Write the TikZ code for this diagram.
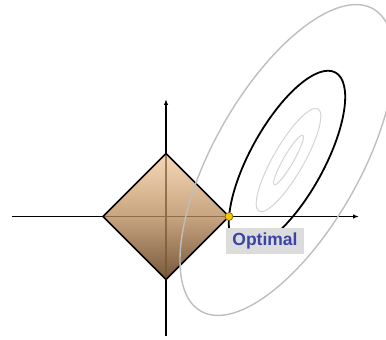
\documentclass[tikz,border=0pt]{standalone}
\usepackage{fontspec}
\setmainfont{Liberation Sans}
\usetikzlibrary{arrows.meta}
\definecolor{peachtop}{RGB}{246,216,182}
\definecolor{peachmid}{RGB}{200,164,128}
\definecolor{brownbot}{RGB}{118,88,58}
\definecolor{innerline}{RGB}{120,85,50}
\definecolor{outergray}{RGB}{190,190,190}
\definecolor{innergray}{RGB}{212,212,212}
\definecolor{labelgray}{RGB}{220,220,220}
\definecolor{labelblue}{RGB}{58,68,168}
\definecolor{dotyellow}{RGB}{248,196,0}
\definecolor{dotedge}{RGB}{110,85,30}
\tikzset{
  axisline/.style={line width=1.5pt, black, -{Latex[length=6pt,width=4.5pt]}},
  diamondedge/.style={line width=1.6pt, black, line join=miter},
  outerell/.style={line width=1.4pt, outergray},
  innerell/.style={line width=1pt, innergray},
  blackell/.style={line width=1.8pt, black},
  optlabel/.style={fill=labelgray, text=labelblue, inner sep=0pt, minimum width=78pt, minimum height=26pt, font=\fontsize{17.5}{20}\selectfont\bfseries},
  optdot/.style={circle, fill=dotyellow, draw=dotedge, line width=0.6pt, inner sep=0pt, minimum size=8pt}
}
\begin{document}
\begin{tikzpicture}[x=1pt,y=1pt]
\useasboundingbox (0,0) rectangle (386,340);
\coordinate (O) at (166,123.5);
\coordinate (C) at (287,180);
\coordinate (Ci) at (288.5,180);
\coordinate (xs) at (12,123.5);
\coordinate (xe) at (359,123.5);
\coordinate (ys) at (166,4);
\coordinate (ye) at (166,241);
\coordinate (R) at (229,123.5);
\coordinate (T) at (166,186.5);
\coordinate (L) at (103,123.5);
\coordinate (B) at (166,60.5);
% axes
\draw[axisline] (xs) -- (xe);
\draw[axisline] (ys) -- (ye);
% diamond
\shade[top color=peachtop, bottom color=brownbot, middle color=peachmid] (R) -- (T) -- (L) -- (B) -- cycle;
\draw[innerline, line width=1.3pt, opacity=0.7] (L) -- (R) (T) -- (B);
\draw[diamondedge] (R) -- (T) -- (L) -- (B) -- cycle;
% ellipses
\draw[outerell, rotate around={60.3:(C)}] (C) ellipse (174 and 73);
\draw[innerell, rotate around={60:(Ci)}] (Ci) ellipse (59 and 15.2);
\draw[innerell, rotate around={60:(Ci)}] (Ci) ellipse (28.5 and 5);
\draw[blackell, rotate around={61:(C)}] (C) ellipse (100 and 36.8);
% label and optimal point
\node[optlabel] (opt) at (265,99) {Optimal};
\node[optdot] (optpt) at (R) {};
\end{tikzpicture}
\end{document}
